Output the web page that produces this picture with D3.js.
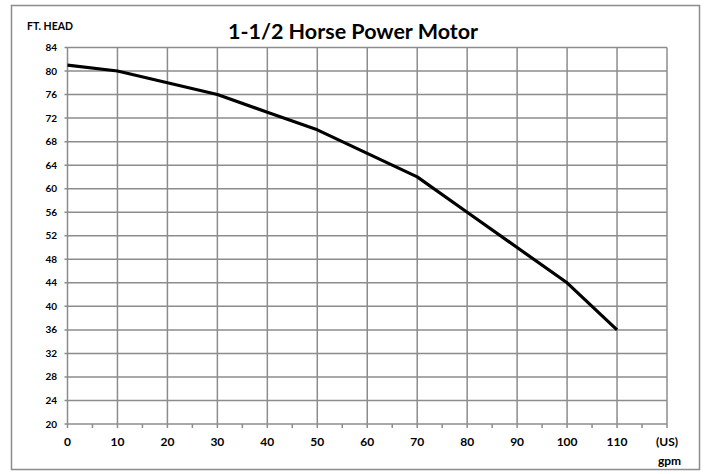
<!DOCTYPE html>
<html>
<head>
<script src="https://d3js.org/d3.v7.min.js"></script>
<style>
  body { margin: 0; background: #fff; }
  text { font-family: Lato, "Open Sans", sans-serif; font-weight: bold; fill: #000; }
</style>
</head>
<body>
<svg width="704" height="474"></svg>
<script>
// pump curve: flow (US gpm) vs head (ft)
var flow = [0, 10, 20, 30, 40, 50, 60, 70, 80, 90, 100, 110];
var head = [81, 80, 78, 76, 73, 70, 66, 62, 56, 50, 44, 36];
var xTicks = [0, 10, 20, 30, 40, 50, 60, 70, 80, 90, 100, 110];
var yTicks = d3.range(20, 85, 4);

var svg = d3.select("svg");
var pLeft = 67.5, pRight = 667, pTop = 47.5, pBottom = 424;

var x = d3.scaleLinear().domain([0, 120]).range([pLeft, pRight]);
var y = d3.scaleLinear().domain([20, 84]).range([pBottom, pTop]);

// outer frame
svg.append("rect")
  .attr("x", 11.5).attr("y", 5.5)
  .attr("width", 688).attr("height", 464)
  .attr("fill", "none").attr("stroke", "#8c8c8c").attr("stroke-width", 1.5);

var grid = "#8c8c8c";

// horizontal grid
svg.append("g").selectAll("line").data(yTicks).enter().append("line")
  .attr("x1", pLeft - 3).attr("x2", pRight)
  .attr("y1", function (d) { return y(d); }).attr("y2", function (d) { return y(d); })
  .attr("stroke", grid).attr("stroke-width", 1.5);

// vertical grid (every 10) and right edge
svg.append("g").selectAll("line").data(xTicks.concat([120])).enter().append("line")
  .attr("x1", function (d) { return x(d); }).attr("x2", function (d) { return x(d); })
  .attr("y1", pTop).attr("y2", pBottom + 4)
  .attr("stroke", grid).attr("stroke-width", 1.5);

// minor ticks at 5
svg.append("g").selectAll("line").data(d3.range(5, 120, 10)).enter().append("line")
  .attr("x1", function (d) { return x(d); }).attr("x2", function (d) { return x(d); })
  .attr("y1", pBottom).attr("y2", pBottom + 4)
  .attr("stroke", grid).attr("stroke-width", 1.5);

// y labels
svg.append("g").selectAll("text").data(yTicks).enter().append("text")
  .attr("x", 57).attr("y", function (d) { return y(d); })
  .attr("dy", "0.35em").attr("text-anchor", "end")
  .style("font-size", "10px")
  .text(function (d) { return d; });

// x labels
svg.append("g").selectAll("text").data(xTicks).enter().append("text")
  .attr("x", function (d) { return x(d); }).attr("y", 446)
  .attr("text-anchor", "middle")
  .style("font-size", "12px")
  .text(function (d) { return d; });

svg.append("text").attr("x", x(120)).attr("y", 446)
  .attr("text-anchor", "middle").style("font-size", "12px").text("(US)");
svg.append("text").attr("x", x(120) + 2.5).attr("y", 465)
  .attr("text-anchor", "middle").style("font-size", "12px").text("gpm");

svg.append("text").attr("x", 27).attr("y", 30)
  .style("font-size", "10.5px").text("FT. HEAD");

svg.append("text").attr("x", 353).attr("y", 38.5)
  .attr("text-anchor", "middle").style("font-size", "21.5px")
  .text("1-1/2 Horse Power Motor");

// curve
var line = d3.line()
  .x(function (d, i) { return x(flow[i]); })
  .y(function (d) { return y(d); });

svg.append("path").datum(head)
  .attr("d", line)
  .attr("fill", "none").attr("stroke", "#000").attr("stroke-width", 3.2)
  .attr("stroke-linejoin", "round");
</script>
</body>
</html>
